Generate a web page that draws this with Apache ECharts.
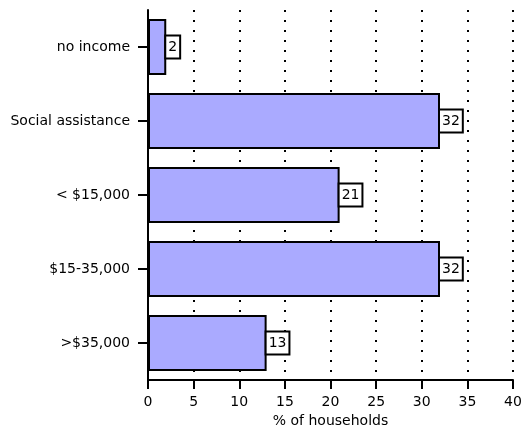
<!DOCTYPE html>
<html><head><meta charset="utf-8">
<script src="https://cdn.jsdelivr.net/npm/echarts@6/dist/echarts.min.js"></script>
<style>html,body{margin:0;padding:0;background:#fff}#c{width:521px;height:427px}</style>
</head><body><div id="c"></div>
<script>
var categories = ["no income", "Social assistance", "< $15,000", "$15-35,000", ">$35,000"];
var values = [2, 32, 21, 32, 13];
var xTicks = [0, 40, 5];
var xName = "% of households";

var F = 'DejaVu Sans';
var chart = echarts.init(document.getElementById('c'));
chart.setOption({
  animation: false,
  grid: {left: 148, right: 8, top: 10, bottom: 47, containLabel: false, outerBoundsMode: 'none'},
  xAxis: {
    type: 'value', min: xTicks[0], max: xTicks[1], interval: xTicks[2],
    name: xName, nameLocation: 'middle', nameGap: 33,
    nameTextStyle: {color: '#000', fontSize: 14, fontFamily: F},
    axisLine: {show: true, lineStyle: {color: '#000', width: 2}},
    axisTick: {show: true, length: 9, lineStyle: {color: '#000', width: 2}},
    axisLabel: {color: '#000', fontSize: 14, fontFamily: F, margin: 15},
    splitLine: {show: true, lineStyle: {color: '#000', type: [2, 8], width: 2}}
  },
  yAxis: {
    type: 'category', data: categories, inverse: true,
    axisLine: {show: true, lineStyle: {color: '#000', width: 2}},
    axisTick: {show: true, alignWithLabel: true, length: 10, lineStyle: {color: '#000', width: 2}},
    axisLabel: {color: '#000', fontSize: 14, fontFamily: F, margin: 18},
    splitLine: {show: false}
  },
  series: [{
    type: 'bar', data: values, barWidth: '76%',
    itemStyle: {color: '#aaaaff', borderColor: '#000', borderWidth: 2},
    label: {
      show: true, position: 'right', distance: 0, color: '#000',
      fontSize: 14, fontFamily: F,
      backgroundColor: '#fff', borderColor: '#000', borderWidth: 2,
      padding: [4, 2, 3, 2]
    }
  }]
});
</script></body></html>
